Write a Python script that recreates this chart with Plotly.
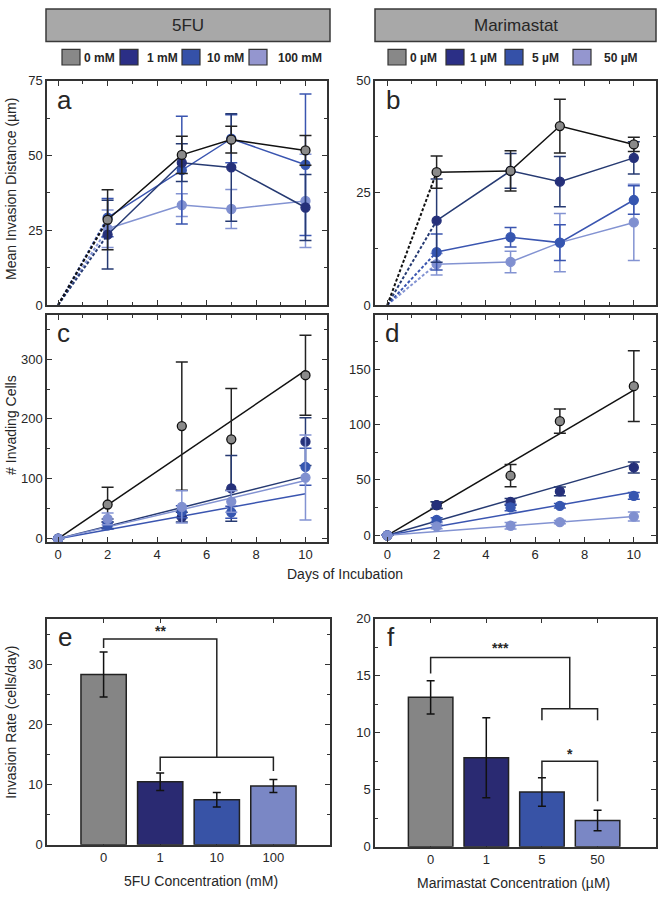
import plotly.graph_objects as go

# ---- data ----
days = [2, 5, 7, 10]
cell_days = [0, 2, 5, 7, 10]

fu_labels = ['0 mM', '1 mM', '10 mM', '100 mM']
mari_labels = ['0 µM', '1 µM', '5 µM', '50 µM']
fu_ticks = ['0', '1', '10', '100']
mari_ticks = ['0', '1', '5', '50']

# mean invasion distance (um)
fu_dist = [[28.5, 50.2, 55.3, 51.7], [23.5, 47.6, 46.0, 32.6],
           [29.2, 45.1, 55.6, 46.9], [25.5, 33.4, 32.1, 34.8]]
fu_dist_err = [[10.0, 6.2, 4.5, 5.0], [11.5, 6.3, 18.0, 11.0],
               [6.4, 18.0, 8.0, 23.7], [6.3, 3.8, 6.5, 15.6]]
mari_dist = [[29.6, 29.9, 39.9, 35.8], [18.8, 29.9, 27.5, 32.8],
             [11.8, 15.1, 13.9, 23.4], [9.1, 9.6, 13.9, 18.4]]
mari_dist_err = [[3.6, 4.5, 6.0, 1.6], [9.3, 3.9, 5.6, 3.6],
                 [4.0, 2.2, 4.0, 3.2], [2.4, 2.4, 6.5, 8.5]]

# number of invading cells
fu_cells = [[0, 57, 188, 166, 273], [0, 25, 36, 84, 162],
            [0, 22, 45, 44, 120], [0, 33, 53, 62, 102]]
fu_cells_err = [[0, 29, 107, 85, 67], [0, 8, 8, 55, 40],
                [0, 6, 10, 10, 31], [0, 10, 27, 18, 71]]
fu_fit_day10 = [281, 104, 75, 97]
mari_cells = [[0, 27.2, 53.8, 103, 134.6], [0, 27.2, 30.2, 39.6, 61.2],
              [0, 13.9, 25.1, 26.6, 35.5], [0, 8.0, 8.6, 11.8, 16.9]]
mari_cells_err = [[0, 3, 10, 11, 32], [0, 3, 3, 4, 5],
                  [0, 2, 3, 2, 3], [0, 2, 3, 1.5, 4]]
mari_fit_day10 = [131, 64, 39, 17]

# invasion rate (cells/day)
fu_rate = [28.4, 10.5, 7.5, 9.8]
fu_rate_err = [3.75, 1.45, 1.2, 1.1]
mari_rate = [13.1, 7.8, 4.8, 2.3]
mari_rate_err = [1.45, 3.5, 1.25, 0.9]

# ---- styling ----
W, H = 663, 900
FONT = 'Liberation Sans, Arial, sans-serif'
INK = '#262626'
mark_col = ['#8a8a8a', '#25307a', '#3656b0', '#8090d0']
line_col = ['#111111', '#263a72', '#3a55b0', '#8393d2']
bar_col = ['#858585', '#2a2a72', '#3853a6', '#7a87c5']
legend_col = ['#888888', '#2b2f86', '#3551a8', '#9496cf']


def px(x):
    return x / W


def py(y):
    return 1 - y / H


fig = go.Figure()


def axis_style(**kw):
    d = dict(showline=True, linecolor='#333333', linewidth=1.5, mirror='ticks',
             ticks='inside', ticklen=5, tickwidth=1.2, tickcolor='#333333',
             showgrid=False, zeroline=False,
             tickfont=dict(family=FONT, size=13, color=INK))
    d.update(kw)
    return d


def line_panel(xa, ya, dist, err, dash_to_zero):
    for i in [3, 2, 1, 0]:
        if dash_to_zero:
            fig.add_trace(go.Scatter(x=[0, days[0]], y=[0, dist[i][0]], mode='lines',
                                     line=dict(color=line_col[i], width=2, dash='3px,2px'),
                                     xaxis=xa, yaxis=ya, showlegend=False))
        fig.add_trace(go.Scatter(
            x=days, y=dist[i], mode='lines+markers',
            line=dict(color=line_col[i], width=1.5),
            marker=dict(size=9, color=mark_col[i],
                        line=dict(color='#111111' if i == 0 else mark_col[i], width=1.3)),
            error_y=dict(type='data', array=err[i], color=line_col[i] if i else '#222222',
                         thickness=1.5, width=6),
            xaxis=xa, yaxis=ya, showlegend=False))


def cell_panel(xa, ya, cells, err, fit10):
    for i in range(4):
        fig.add_trace(go.Scatter(x=[cell_days[0], cell_days[-1]], y=[0, fit10[i]],
                                 mode='lines', line=dict(color=line_col[i], width=1.5),
                                 xaxis=xa, yaxis=ya, showlegend=False))
    for i in range(4):
        fig.add_trace(go.Scatter(
            x=cell_days, y=cells[i], mode='markers',
            marker=dict(size=9, color=mark_col[i],
                        line=dict(color='#111111' if i == 0 else mark_col[i], width=1.3)),
            error_y=dict(type='data', array=err[i], color=line_col[i] if i else '#222222',
                         thickness=1.5, width=6),
            xaxis=xa, yaxis=ya, showlegend=False))


def bar_panel(xa, ya, rate, err):
    fig.add_trace(go.Bar(x=list(range(4)), y=rate, width=0.8,
                         marker=dict(color=bar_col, line=dict(color='#222222', width=1.5)),
                         error_y=dict(type='data', array=err, color='#111111',
                                      thickness=1.5, width=4),
                         xaxis=xa, yaxis=ya, showlegend=False))


line_panel('x', 'y', fu_dist, fu_dist_err, True)
line_panel('x2', 'y2', mari_dist, mari_dist_err, True)
cell_panel('x3', 'y3', fu_cells, fu_cells_err, fu_fit_day10)
cell_panel('x4', 'y4', mari_cells, mari_cells_err, mari_fit_day10)
bar_panel('x5', 'y5', fu_rate, fu_rate_err)
bar_panel('x6', 'y6', mari_rate, mari_rate_err)

# significance brackets
bk = dict(mode='lines', line=dict(color='#222222', width=1.5), showlegend=False, hoverinfo='skip')
fig.add_trace(go.Scatter(x=[0, 0, 2, 2], y=[32.8, 34.3, 34.3, 14.6], xaxis='x5', yaxis='y5', **bk))
fig.add_trace(go.Scatter(x=[1, 1, 3, 3], y=[12.3, 14.6, 14.6, 12.3], xaxis='x5', yaxis='y5', **bk))
fig.add_trace(go.Scatter(x=[0, 0, 2.5, 2.5], y=[15.2, 16.6, 16.6, 12.1], xaxis='x6', yaxis='y6', **bk))
fig.add_trace(go.Scatter(x=[2, 2, 3, 3], y=[11.1, 12.1, 12.1, 11.1], xaxis='x6', yaxis='y6', **bk))
fig.add_trace(go.Scatter(x=[2, 2, 3, 3], y=[6.1, 7.5, 7.5, 4.0], xaxis='x6', yaxis='y6', **bk))

dom_ax = [px(47), px(327)]
dom_bx = [px(375), px(656)]
dom_ay = [py(303), py(75)]
dom_cy = [py(544), py(313)]

xday = dict(tickmode='array', tickvals=[0, 2, 4, 6, 8, 10],
            minor=dict(ticks='inside', ticklen=3, tickvals=[1, 3, 5, 7, 9], tickcolor='#333333'))

fig.update_layout(
    width=W, height=H, margin=dict(l=0, r=0, t=0, b=0),
    paper_bgcolor='white', plot_bgcolor='white',
    font=dict(family=FONT, color=INK),
    xaxis=axis_style(domain=dom_ax, anchor='y', range=[-0.45, 10.87], showticklabels=False, **xday),
    yaxis=axis_style(domain=dom_ay, anchor='x', range=[0, 75], tickvals=[0, 25, 50, 75],
                     minor=dict(ticks='inside', ticklen=3, tickvals=[12.5, 37.5, 62.5])),
    xaxis2=axis_style(domain=dom_bx, anchor='y2', range=[-0.5, 10.9], showticklabels=False, **xday),
    yaxis2=axis_style(domain=dom_ay, anchor='x2', range=[0, 50], tickvals=[0, 25, 50],
                      minor=dict(ticks='inside', ticklen=3, tickvals=[12.5, 37.5])),
    xaxis3=axis_style(domain=dom_ax, anchor='y3', range=[-0.45, 10.87], **xday),
    yaxis3=axis_style(domain=dom_cy, anchor='x3', range=[-5.5, 374], tickvals=[0, 100, 200, 300],
                      minor=dict(ticks='inside', ticklen=3, tickvals=[50, 150, 250, 350])),
    xaxis4=axis_style(domain=dom_bx, anchor='y4', range=[-0.5, 10.9], **xday),
    yaxis4=axis_style(domain=dom_cy, anchor='x4', range=[-6, 199], tickvals=[0, 50, 100, 150],
                      minor=dict(ticks='inside', ticklen=3, tickvals=[25, 75, 125, 175])),
    xaxis5=axis_style(domain=[px(47), px(330)], anchor='y5', range=[-1, 4], tickmode='array',
                      tickvals=[0, 1, 2, 3], ticktext=fu_ticks, layer='below traces'),
    yaxis5=axis_style(domain=[py(852), py(622)], anchor='x5', range=[0, 37.7], tickvals=[0, 10, 20, 30],
                      minor=dict(ticks='inside', ticklen=3, tickvals=[5, 15, 25, 35])),
    xaxis6=axis_style(domain=dom_bx, anchor='y6', range=[-1, 4.05], tickmode='array',
                      tickvals=[0, 1, 2, 3], ticktext=mari_ticks, layer='below traces'),
    yaxis6=axis_style(domain=[py(854), py(622)], anchor='x6', range=[0, 20], tickvals=[0, 5, 10, 15, 20],
                      minor=dict(ticks='inside', ticklen=3, tickvals=[2.5, 7.5, 12.5, 17.5])),
    bargap=0.2,
)

ann = []
shapes = []


def text(x, y, s, size=13, angle=0, xanchor='center', bold=False, **kw):
    ann.append(dict(x=px(x), y=py(y), xref='paper', yref='paper', text=('<b>%s</b>' % s) if bold else s,
                    showarrow=False, textangle=angle, xanchor=xanchor, yanchor='middle',
                    font=dict(family=FONT, size=size, color=INK), **kw))


# header boxes
for x0, x1, label in [(46, 330, '5FU'), (375, 656, 'Marimastat')]:
    shapes.append(dict(type='rect', xref='paper', yref='paper', x0=px(x0), x1=px(x1), y0=py(35), y1=py(2),
                       fillcolor='#a8a8a8', line=dict(color='#3a3a3a', width=1.5)))
    text((x0 + x1) / 2, 19, label, size=17)

# legends
for sq_x, txt_x, labels in [([62, 120, 182, 249], [82, 145, 205, 276], fu_labels),
                            ([388, 446, 505, 573], [408, 468, 530, 602], mari_labels)]:
    for i in range(4):
        shapes.append(dict(type='rect', xref='paper', yref='paper', x0=px(sq_x[i]), x1=px(sq_x[i] + 18),
                           y0=py(59), y1=py(43), fillcolor=legend_col[i],
                           line=dict(color='#333333', width=1.2)))
        text(txt_x[i], 52, labels[i], size=12, xanchor='left', bold=True)

# panel letters
for x, y, s in [(64, 95, 'a'), (393, 95, 'b'), (63, 332, 'c'), (392, 332, 'd'), (65, 641, 'e'), (391, 641, 'f')]:
    text(x, y, s, size=26)

# stars
star_font = dict(family=FONT, size=14, color=INK)
ann.append(dict(x=1, y=35.6, xref='x5', yref='y5', text='<b>**</b>', showarrow=False, font=star_font))
ann.append(dict(x=1.25, y=17.4, xref='x6', yref='y6', text='<b>***</b>', showarrow=False, font=star_font))
ann.append(dict(x=2.5, y=8.1, xref='x6', yref='y6', text='<b>*</b>', showarrow=False, font=star_font))

# axis titles
text(11, 185, 'Mean Invasion Distance (µm)', size=14, angle=-90)
text(11, 425, '# Invading Cells', size=14, angle=-90)
text(11, 728, 'Invasion Rate (cells/day)', size=14, angle=-90)
text(345, 577, 'Days of Incubation', size=14)
text(201, 889, '5FU Concentration (mM)', size=14)
text(513, 891, 'Marimastat Concentration (µM)', size=14)

fig.update_layout(annotations=ann, shapes=shapes)

fig.write_html('out.html', config={'displayModeBar': False},
               post_script="document.body.style.margin='0';")
